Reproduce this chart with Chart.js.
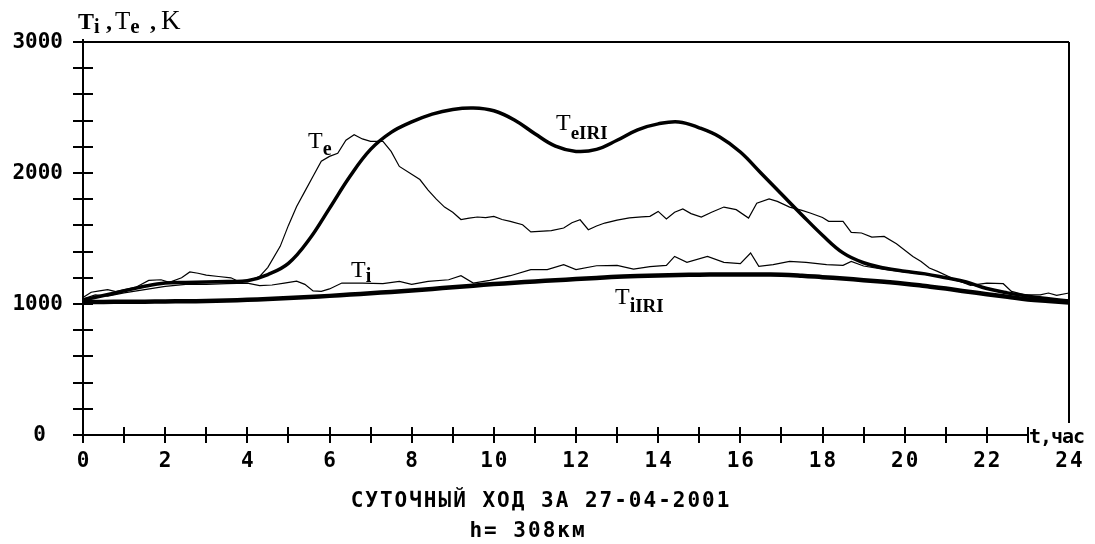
<!DOCTYPE html>
<html>
<head>
<meta charset="utf-8">
<script src="https://cdn.jsdelivr.net/npm/chart.js@4.4.1/dist/chart.umd.min.js"></script>
<style>
  html, body { margin: 0; padding: 0; background: #fff; }
  #wrap { width: 1095px; height: 544px; }
</style>
</head>
<body>
<div id="wrap"><canvas id="chart" width="1095" height="544"></canvas></div>
<script>
// Measured electron temperature Te, K
const teHours = [0, 0.2, 0.4, 0.6, 0.8, 1.0, 1.3, 1.6, 1.9, 2.1, 2.4, 2.6, 2.8, 3.0, 3.3, 3.6, 3.8, 4.0, 4.3, 4.5,
  4.8, 5.0, 5.2, 5.4, 5.6, 5.8, 6.0, 6.2, 6.4, 6.6, 6.8, 7.0, 7.3, 7.5, 7.7, 8.0, 8.2, 8.4, 8.6, 8.8,
  9.0, 9.2, 9.4, 9.6, 9.8, 10.0, 10.2, 10.4, 10.7, 10.9, 11.1, 11.4, 11.7, 11.9, 12.1, 12.3, 12.5, 12.7, 13.0, 13.3,
  13.6, 13.8, 14.0, 14.2, 14.4, 14.6, 14.8, 15.05, 15.3, 15.6, 15.9, 16.2, 16.4, 16.7, 16.9, 17.2, 17.5, 17.7, 18.0, 18.15,
  18.5, 18.7, 18.95, 19.2, 19.5, 19.8, 20.2, 20.4, 20.6, 20.8, 21.2, 21.6, 22.0, 22.4, 22.6, 22.9, 23.3, 23.5, 23.7, 24.0];
const teValues = [1050, 1090, 1100, 1110, 1095, 1110, 1130, 1180, 1185, 1165, 1200, 1245, 1235, 1220, 1210, 1200, 1170, 1175, 1210, 1280,
  1440, 1600, 1745, 1860, 1975, 2090, 2127, 2150, 2250, 2292, 2260, 2241, 2241, 2165, 2050, 1990, 1950, 1870, 1800, 1740,
  1700, 1645, 1655, 1664, 1660, 1669, 1645, 1631, 1605, 1550, 1555, 1560, 1580, 1620, 1643, 1567, 1595, 1618, 1640, 1657,
  1665, 1669, 1707, 1649, 1700, 1725, 1690, 1664, 1700, 1740, 1720, 1656, 1770, 1802, 1783, 1740, 1715, 1695, 1660, 1631,
  1631, 1547, 1542, 1511, 1516, 1460, 1363, 1325, 1275, 1249, 1191, 1142, 1160, 1155, 1096, 1071, 1070, 1084, 1066, 1084];

// Measured ion temperature Ti, K
const tiHours = [0, 0.3, 0.6, 1.0, 1.5, 2.0, 2.5, 3.0, 3.5, 4.0, 4.3, 4.6, 4.9, 5.2, 5.4, 5.6, 5.8, 6.0, 6.3, 6.8,
  7.3, 7.7, 8.0, 8.4, 8.9, 9.2, 9.5, 9.9, 10.4, 10.9, 11.3, 11.7, 12.0, 12.5, 13.0, 13.4, 13.8, 14.2, 14.4, 14.7,
  15.2, 15.6, 16.0, 16.25, 16.45, 16.8, 17.2, 17.6, 18.1, 18.5, 18.7, 19.0, 19.5, 20.0, 20.5, 21.0, 21.5, 22.0, 22.5, 23.0,
  23.5, 24.0];
const tiValues = [1040, 1070, 1060, 1085, 1110, 1135, 1150, 1150, 1155, 1160, 1140, 1145, 1160, 1175, 1150, 1100, 1096, 1115, 1160, 1160,
  1155, 1173, 1150, 1173, 1185, 1216, 1160, 1180, 1216, 1262, 1262, 1300, 1262, 1292, 1295, 1267, 1285, 1295, 1363, 1318,
  1363, 1318, 1308, 1389, 1287, 1300, 1325, 1318, 1300, 1295, 1325, 1290, 1265, 1245, 1225, 1200, 1160, 1115, 1080, 1055,
  1040, 1030];

// IRI model temperatures, K
const iriHours = [0, 0.5, 1, 1.5, 2, 2.5, 3, 3.5, 4, 4.5, 5, 5.5, 6, 6.5, 7, 7.5, 8, 8.5, 9, 9.5,
  10, 10.5, 11, 11.5, 12, 12.5, 13, 13.5, 14, 14.5, 15, 15.5, 16, 16.5, 17, 17.5, 18, 18.5, 19, 19.5,
  20, 20.5, 21, 21.5, 22, 22.5, 23, 23.5, 24];
const teIriValues = [1030, 1065, 1100, 1135, 1160, 1165, 1168, 1172, 1178, 1225, 1310, 1490, 1730, 1975, 2180, 2310, 2390, 2450, 2485, 2496,
  2475, 2405, 2300, 2205, 2165, 2180, 2250, 2330, 2375, 2390, 2345, 2275, 2160, 2000, 1840, 1680, 1525, 1390, 1315, 1275,
  1250, 1230, 1200, 1168, 1118, 1085, 1060, 1040, 1022];
const tiIriValues = [1015, 1016, 1017, 1018, 1020, 1021, 1023, 1027, 1032, 1038, 1045, 1053, 1062, 1072, 1082, 1092, 1103, 1115, 1128, 1140,
  1152, 1162, 1172, 1181, 1190, 1199, 1208, 1213, 1218, 1221, 1224, 1225, 1226, 1225, 1224, 1216, 1205, 1194, 1182, 1169,
  1155, 1137, 1118, 1096, 1075, 1055, 1035, 1023, 1012];

const yLabels = [0, 1000, 2000, 3000];
const xLabels = [0, 2, 4, 6, 8, 10, 12, 14, 16, 18, 20, 22, 24];

function points(hours, values) {
  return hours.map((h, i) => ({ x: h, y: values[i] }));
}

// draws text pieces one after another, each with its own font and baseline shift
function drawRuns(ctx, x, y, runs) {
  runs.forEach(r => {
    ctx.font = r.font;
    if (r.x !== undefined) x = r.x;
    ctx.fillText(r.text, x, y + (r.dy || 0));
    x += ctx.measureText(r.text).width + (r.gap || 0);
  });
}

const SERIF = '"Liberation Serif", "DejaVu Serif", serif';
const MONO = '"DejaVu Sans Mono", "Liberation Mono", monospace';

const framePlugin = {
  id: 'frame',
  afterDatasetsDraw(chart) {
    const ctx = chart.ctx;
    const xs = chart.scales.x;
    const ys = chart.scales.y;
    const x0 = xs.getPixelForValue(0);
    const x23 = xs.getPixelForValue(23);
    const x24 = xs.getPixelForValue(24);
    const yTop = ys.getPixelForValue(3000);
    const yBot = ys.getPixelForValue(0);

    ctx.save();
    ctx.strokeStyle = '#000';
    ctx.lineWidth = 2;
    ctx.beginPath();
    // axes and box
    ctx.moveTo(x0, yTop - 3); ctx.lineTo(x0, yBot + 8);
    ctx.moveTo(x0 - 10, yBot); ctx.lineTo(x23, yBot);
    ctx.moveTo(x0 - 10, yTop); ctx.lineTo(x24, yTop);
    ctx.moveTo(x24, yTop); ctx.lineTo(x24, yBot - 12);
    // y ticks every 200 K
    for (let v = 200; v < 3000; v += 200) {
      const py = Math.round(ys.getPixelForValue(v));
      ctx.moveTo(x0 - 10, py); ctx.lineTo(x0 + 10, py);
    }
    // x ticks every hour
    for (let h = 1; h <= 23; h++) {
      const px = Math.round(xs.getPixelForValue(h));
      ctx.moveTo(px, yBot - 8); ctx.lineTo(px, yBot + 8);
    }
    ctx.stroke();

    ctx.fillStyle = '#000';
    ctx.textBaseline = 'middle';
    ctx.textAlign = 'right';
    ctx.letterSpacing = '0px';
    ctx.font = 'bold 21px ' + MONO;
    yLabels.forEach(v => {
      const label = String(v);
      // the zero stands alone, a little to the left of the thousands
      const right = label.length === 1 ? 46 : 63;
      ctx.fillText(label, right, ys.getPixelForValue(v) + 1);
    });
    ctx.textAlign = 'center';
    ctx.letterSpacing = '2px';
    xLabels.forEach(h => ctx.fillText(String(h), xs.getPixelForValue(h) + 1, yBot + 27));
    ctx.fillText('СУТОЧНЫЙ ХОД ЗА 27-04-2001', 541, yBot + 67);
    ctx.fillText('h= 308км', 528, yBot + 97);
    ctx.letterSpacing = '0px';

    ctx.textAlign = 'left';
    ctx.font = 'bold 20px ' + MONO;
    ctx.letterSpacing = '-1px';
    ctx.fillText('t,час', x23 + 1, yBot + 3);
    ctx.letterSpacing = '0px';

    // axis title and curve names
    ctx.textBaseline = 'alphabetic';
    drawRuns(ctx, 78, 29, [
      { text: 'T', font: 'bold 24px ' + SERIF },
      { text: 'i', font: 'bold 20px ' + SERIF, dy: 4 },
      { text: ',', font: 'bold 24px ' + SERIF, x: 106 },
      { text: 'T', font: '25px ' + SERIF, x: 115 },
      { text: 'e', font: 'bold 21px ' + SERIF, dy: 4 },
      { text: ',', font: 'bold 24px ' + SERIF, x: 150 },
      { text: 'K', font: '27px ' + SERIF, x: 161 }
    ]);
    drawRuns(ctx, 308, 148, [
      { text: 'T', font: '24px ' + SERIF },
      { text: 'e', font: 'bold 20px ' + SERIF, dy: 7 }
    ]);
    drawRuns(ctx, 556, 130, [
      { text: 'T', font: '24px ' + SERIF },
      { text: 'eIRI', font: 'bold 19px ' + SERIF, dy: 9 }
    ]);
    drawRuns(ctx, 351, 277, [
      { text: 'T', font: '24px ' + SERIF },
      { text: 'i', font: 'bold 20px ' + SERIF, dy: 5 }
    ]);
    drawRuns(ctx, 615, 304, [
      { text: 'T', font: '24px ' + SERIF },
      { text: 'i', font: 'bold 20px ' + SERIF, dy: 8 },
      { text: 'IRI', font: 'bold 19px ' + SERIF, dy: 8 }
    ]);
    ctx.restore();
  }
};

const chartCanvas = document.getElementById('chart').getContext('2d');
new Chart(chartCanvas, {
  type: 'line',
  data: {
    datasets: [
      { label: 'Te', data: points(teHours, teValues), borderColor: '#000', borderWidth: 1.2, tension: 0 },
      { label: 'Ti', data: points(tiHours, tiValues), borderColor: '#000', borderWidth: 1.2, tension: 0 },
      { label: 'TeIRI', data: points(iriHours, teIriValues), borderColor: '#000', borderWidth: 3.5, tension: 0.4 },
      { label: 'TiIRI', data: points(iriHours, tiIriValues), borderColor: '#000', borderWidth: 4.5, tension: 0.4 }
    ]
  },
  options: {
    responsive: false,
    animation: false,
    events: [],
    layout: { padding: { left: 83, right: 26, top: 42, bottom: 109 } },
    elements: { point: { radius: 0 }, line: { fill: false, borderCapStyle: 'round' } },
    plugins: { legend: { display: false }, tooltip: { enabled: false } },
    scales: {
      x: { type: 'linear', min: 0, max: 24, display: false },
      y: { type: 'linear', min: 0, max: 3000, display: false }
    }
  },
  plugins: [framePlugin]
});
</script>
</body>
</html>
